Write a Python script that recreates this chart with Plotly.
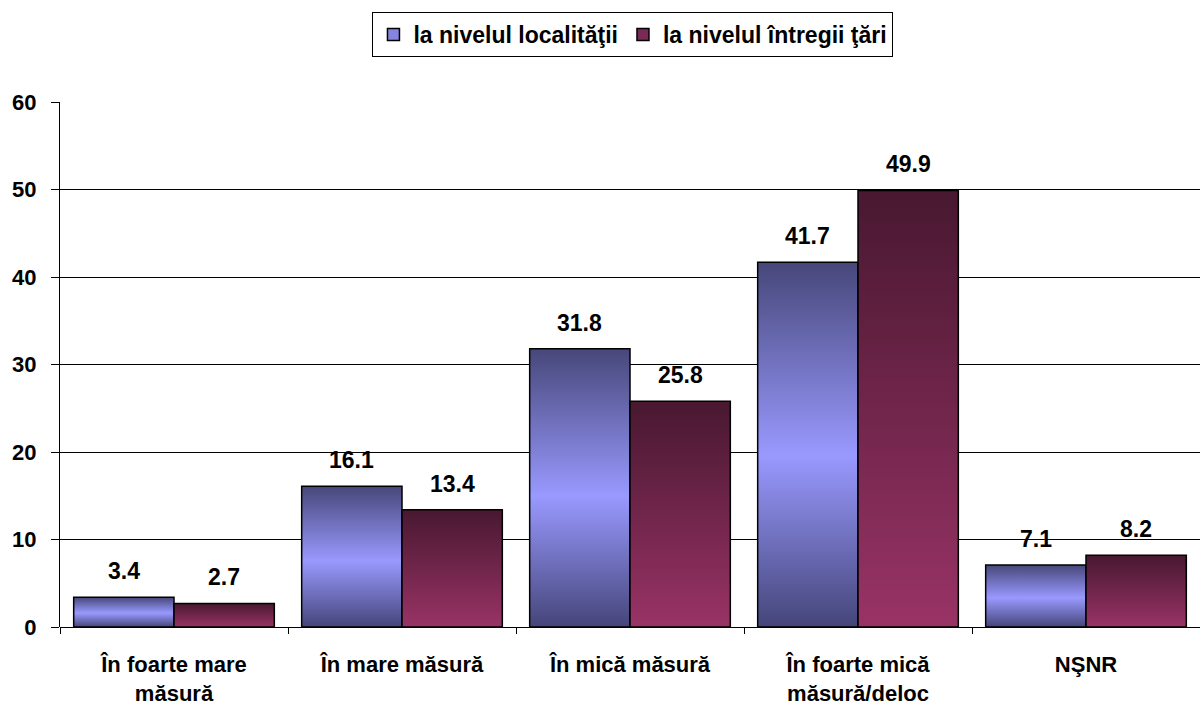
import plotly.graph_objects as go

categories = ["În foarte mare<br>măsură", "În mare măsură", "În mică măsură",
              "În foarte mică<br>măsură/deloc", "NŞNR"]
local_vals = [3.4, 16.1, 31.8, 41.7, 7.1]
country_vals = [2.7, 13.4, 25.8, 49.9, 8.2]
series_names = ["la nivelul localităţii", "la nivelul întregii ţări"]

BAR_W = 0.44
blue_scale = [[0, "#45457a"], [0.47, "#9999ff"], [1, "#47477a"]]
maroon_scale = [[0, "#993366"], [1, "#481830"]]
legend_colors = ["#8585e0", "#7a2a55"]

fig = go.Figure()

series = [(local_vals, -BAR_W, blue_scale, series_names[0]),
          (country_vals, 0.0, maroon_scale, series_names[1])]

for vals, off, scale, name in series:
    for i, v in enumerate(vals):
        x0 = i + off
        x1 = x0 + BAR_W
        fig.add_trace(go.Scatter(
            x=[x0, x0, x1, x1, x0], y=[0, v, v, 0, 0],
            mode="lines", fill="toself",
            fillgradient=dict(type="vertical", colorscale=scale),
            line=dict(color="black", width=1.5),
            name=name, showlegend=False,
            hoverinfo="skip",
        ))
        fig.add_annotation(x=x0 + BAR_W / 2, y=v, text=f"{v:.1f}",
                           showarrow=False, yshift=26,
                           font=dict(size=23, color="black", weight="bold"))

# legend swatches
for name, col in zip(series_names, legend_colors):
    fig.add_trace(go.Bar(x=[None], y=[None], name=name,
                         marker=dict(color=col, line=dict(color="black", width=1.5))))

fig.update_layout(
    width=1200, height=706,
    margin=dict(l=60, r=0, t=102, b=79, autoexpand=False),
    paper_bgcolor="white", plot_bgcolor="white",
    font=dict(family="Liberation Sans, Arial", size=22, color="black", weight="bold"),
    legend=dict(orientation="h", x=0.5026, xanchor="center", y=1.1714, yanchor="top",
                bordercolor="black", borderwidth=1, bgcolor="white",
                font=dict(size=23), itemwidth=30),
    showlegend=True,
)
fig.update_xaxes(
    range=[-0.5, 4.5], tickvals=list(range(len(categories))), ticktext=categories,
    ticks="", showgrid=False, zeroline=False, showline=False,
    ticklabelstandoff=22, tickfont=dict(size=22),
    minor=dict(tickvals=[k - 0.5 for k in range(len(categories) + 1)],
               ticks="outside", ticklen=6, tickcolor="black", showgrid=False),
)
fig.update_yaxes(
    range=[0, 60], dtick=10, showgrid=True, gridcolor="black", gridwidth=1,
    zeroline=True, zerolinecolor="black", zerolinewidth=1,
    showline=True, linecolor="black", linewidth=1,
    ticks="outside", ticklen=8, tickcolor="black", ticklabelstandoff=10,
)

# drop the default page margin so the figure sits at the window's corner
fig.write_html("out.html", config={"displayModeBar": False},
               post_script="document.body.style.margin='0';")
